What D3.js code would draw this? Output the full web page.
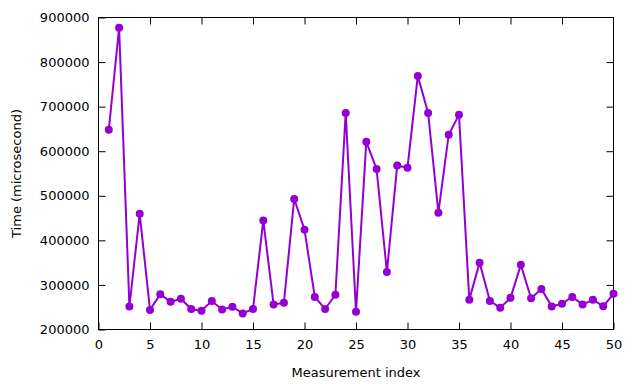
<!DOCTYPE html>
<html>
<head>
<meta charset="utf-8">
<script src="https://cdn.jsdelivr.net/npm/d3@7"></script>
<style>
	body{margin:0;background:#fff;}
	text{font-family:"DejaVu Sans",sans-serif;font-size:13px;fill:#000;}
</style>
</head>
<body>
<svg id="chart" width="640" height="384"></svg>
<script>
// measurement index 1..50, time in microseconds
var indexes = d3.range(1,51);
var times = [
	648000,877000,251600,459600,244000,279300,262000,269000,246000,242000,
	264000,245000,251000,236000,246000,444600,256000,260000,493000,424000,
	273000,246000,278000,686000,240000,621000,560000,329000,568000,563000,
	769000,686000,462000,637000,682000,267000,350000,264000,249000,271000,
	345000,270000,291000,251600,258000,273000,256000,267000,252000,280000
];
var xTicks = [0,5,10,15,20,25,30,35,40,45,50];
var yTicks = [200000,300000,400000,500000,600000,700000,800000,900000];

var plotL = 98.5, plotR = 613.5, plotT = 17.5, plotB = 329.5;
var tickLen = 7;
var color = "#9400d3";

var svg = d3.select("#chart");

var x = d3.scaleLinear().domain([0,50]).range([plotL,plotR]);
var y = d3.scaleLinear().domain([200000,900000]).range([plotB,plotT]);

// axes, ticks inside, mirrored on opposite sides
function tickLines(g){
	g.selectAll(".domain").remove();
	g.selectAll(".tick line").attr("stroke","#000");
	g.attr("font-size",null).attr("font-family",null);
	g.selectAll("text").attr("fill","#000");
}

svg.append("g")
	.attr("transform","translate(0,"+plotB+")")
	.call(d3.axisBottom(x).tickValues(xTicks).tickSize(-tickLen).tickPadding(10).tickFormat(d3.format("d")))
	.call(tickLines);

svg.append("g")
	.attr("transform","translate(0,"+plotT+")")
	.call(d3.axisTop(x).tickValues(xTicks.slice(1,-1)).tickSize(-tickLen).tickFormat(""))
	.call(tickLines);

svg.append("g")
	.attr("transform","translate("+plotL+",0)")
	.call(d3.axisLeft(y).tickValues(yTicks).tickSize(-tickLen).tickPadding(9).tickFormat(d3.format("d")))
	.call(tickLines);

svg.append("g")
	.attr("transform","translate("+plotR+",0)")
	.call(d3.axisRight(y).tickValues(yTicks.slice(1,-1)).tickSize(-tickLen).tickFormat(""))
	.call(tickLines);

svg.append("rect")
	.attr("x",plotL).attr("y",plotT)
	.attr("width",plotR-plotL).attr("height",plotB-plotT)
	.attr("fill","none").attr("stroke","#000").attr("stroke-width",1);

// data line + points
var line = d3.line()
	.x(function(d,i){ return x(indexes[i]); })
	.y(function(d){ return y(d); });

svg.append("path")
	.datum(times)
	.attr("d",line)
	.attr("fill","none")
	.attr("stroke",color)
	.attr("stroke-width",2);

svg.selectAll("circle.pt")
	.data(times)
	.enter()
	.append("circle")
	.attr("class","pt")
	.attr("cx",function(d,i){ return x(indexes[i]); })
	.attr("cy",function(d){ return y(d); })
	.attr("r",4)
	.attr("fill",color);

// axis titles
svg.append("text")
	.attr("x",(plotL+plotR)/2)
	.attr("y",377)
	.attr("text-anchor","middle")
	.text("Measurement index");

svg.append("text")
	.attr("transform","translate(21,"+((plotT+plotB)/2)+") rotate(-90)")
	.attr("text-anchor","middle")
	.text("Time (microsecond)");
</script>
</body>
</html>
